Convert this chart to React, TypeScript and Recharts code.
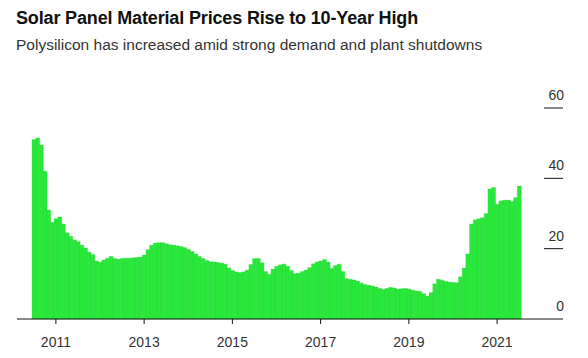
import { BarChart, Bar, XAxis, YAxis } from "recharts"

const COLORS = {
  ink:   "#111111",
  text:  "#333333",
  green: "#2ae83b",
  edge:  "#24d035",
}

// monthly polysilicon price, Jul 2010 .. Jul 2021
const START_YEAR  = 2010
const START_MONTH = 7

const prices = [
  51, 51.5, 49.5, 42, 31, 27.5,                                      // 2010 H2
  28.5, 29, 27, 24.5, 23.5, 22.5, 22, 21, 20.2, 19, 18.3, 16.5,      // 2011
  16.2, 16.8, 17.3, 17.8, 17.2, 17, 17.2, 17.3, 17.3, 17.4, 17.5, 17.6, // 2012
  18.2, 19.7, 21, 21.6, 21.7, 21.7, 21.4, 21.1, 21, 20.8, 20.6, 20.3, // 2013
  19.8, 19.2, 18.5, 17.8, 17.2, 16.6, 16.3, 16.2, 16.1, 15.9, 15.6, 14.5, // 2014
  13.8, 13.4, 13.2, 13.4, 13.9, 15.5, 17.2, 17.2, 16, 13.5, 12.7, 14.2, // 2015
  15, 15.4, 15.6, 15, 13.8, 12.9, 13, 13.5, 13.9, 14.6, 15.7, 16.2,  // 2016
  16.5, 16.9, 16.2, 14.4, 15.2, 15.6, 13.5, 11.5, 11.3, 11.1, 10.8, 10.2, // 2017
  9.8, 9.6, 9.4, 9.1, 8.7, 8.4, 8.7, 9, 8.8, 8.5, 8.6, 8.7,          // 2018
  8.5, 8.2, 8, 7.8, 7.2, 6.5, 7.5, 10, 11.3, 11, 10.7, 10.5,          // 2019
  10.4, 10.3, 12, 14.5, 18.5, 27, 28.2, 28.5, 28.8, 30, 37, 37.4,    // 2020
  32.6, 33.6, 33.8, 33.8, 33.4, 34.5, 37.8,                          // 2021
]

const yearTicks  = ["2011-01", "2013-01", "2015-01", "2017-01", "2019-01", "2021-01"]
const valueTicks = [0, 20, 40, 60]

const data = prices.map((price, i) => {
  const m = START_MONTH - 1 + i
  const year = START_YEAR + Math.floor(m / 12)
  const month = (m % 12) + 1
  return { month: `${year}-${String(month).padStart(2, "0")}`, price }
})

const FONT = "'Liberation Sans', Arial, sans-serif"

function ValueTick({ x, y, payload }: any) {
  return (
    <g>
      <text x={x + 1} y={y - 8} textAnchor="end" fontSize={14} fill={COLORS.text} fontFamily={FONT}>
        {payload.value}
      </text>
      {payload.value !== 0 && (
        <line x1={x - 19} x2={x} y1={y} y2={y} stroke={COLORS.ink} strokeWidth={1} />
      )}
    </g>
  )
}

export default function App() {
  return (
    <div style={{ position: "absolute", left: 0, top: 0, width: 588, height: 358, background: "#fff" }}>
      <BarChart
        width={588}
        height={358}
        data={data}
        barCategoryGap={0}
        margin={{ top: 108, right: 0, left: 17, bottom: 9 }}
      >
        <XAxis
          dataKey="month"
          ticks={yearTicks}
          interval={0}
          tickFormatter={(v: string) => v.slice(0, 4)}
          padding={{ left: 15, right: 42 }}
          height={30}
          axisLine={{ stroke: COLORS.ink }}
          tickLine={{ stroke: COLORS.ink }}
          tickSize={5}
          tickMargin={13}
          tick={{ fontSize: 14, fill: COLORS.text, fontFamily: FONT }}
        />
        <YAxis
          orientation="right"
          domain={[0, 60]}
          ticks={valueTicks}
          width={25}
          axisLine={false}
          tickLine={false}
          tickSize={0}
          tickMargin={0}
          tick={<ValueTick />}
        />
        <Bar dataKey="price" fill={COLORS.green} stroke={COLORS.edge} strokeWidth={0.3} isAnimationActive={false} />
      </BarChart>
      <div
        style={{
          position: "absolute", left: 16, top: 8, fontFamily: FONT, fontWeight: 700,
          fontSize: 18, letterSpacing: -0.15, color: COLORS.ink, whiteSpace: "nowrap",
        }}
      >
        Solar Panel Material Prices Rise to 10-Year High
      </div>
      <div
        style={{
          position: "absolute", left: 16, top: 36, fontFamily: FONT,
          fontSize: 15.5, color: COLORS.text, whiteSpace: "nowrap",
        }}
      >
        Polysilicon has increased amid strong demand and plant shutdowns
      </div>
    </div>
  )
}
